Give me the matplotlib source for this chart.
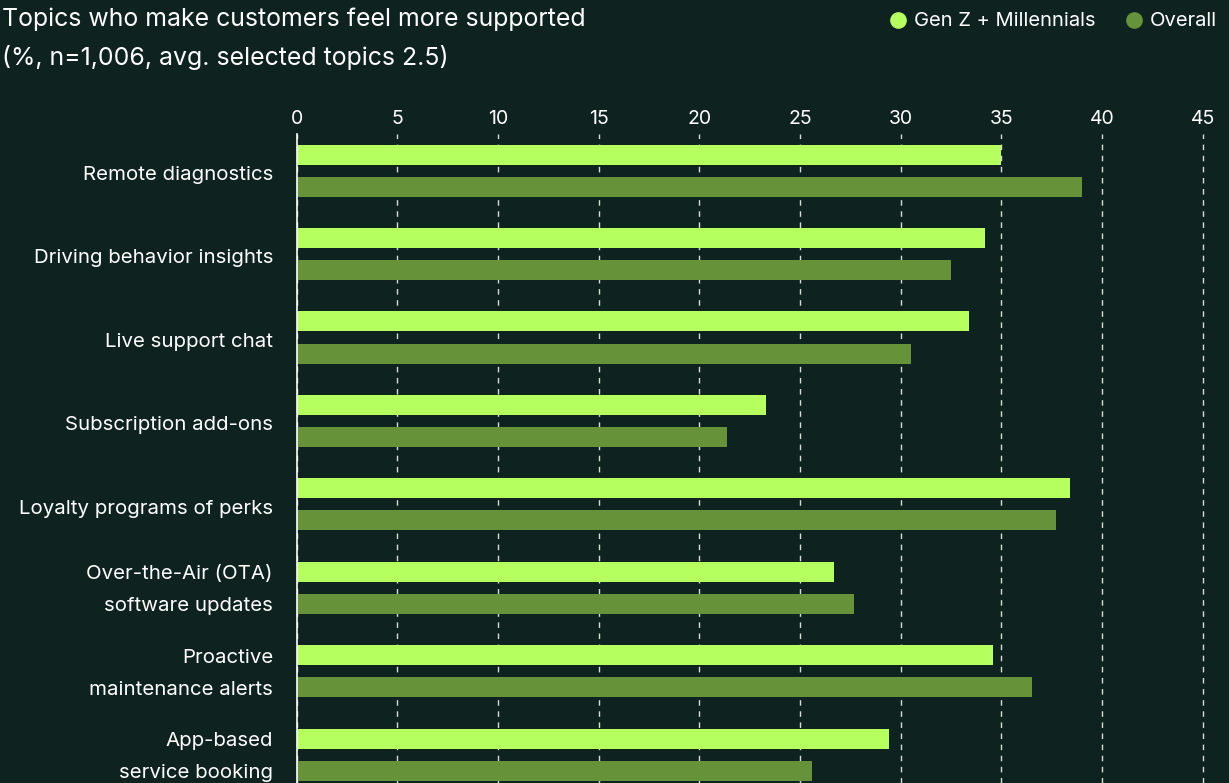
import matplotlib
matplotlib.use("Agg")
import matplotlib.pyplot as plt
from matplotlib.lines import Line2D
import numpy as np

categories = [
    ["Remote diagnostics"],
    ["Driving behavior insights"],
    ["Live support chat"],
    ["Subscription add-ons"],
    ["Loyalty programs of perks"],
    ["Over-the-Air (OTA)", "software updates"],
    ["Proactive", "maintenance alerts"],
    ["App-based", "service booking"],
]
genz_millennials = [35.0, 34.2, 33.4, 23.3, 38.4, 26.7, 34.6, 29.4]
overall = [39.0, 32.5, 30.5, 21.4, 37.7, 27.7, 36.5, 25.6]
x_ticks = [0, 5, 10, 15, 20, 25, 30, 35, 40, 45]

BG = "#0e231f"
LIGHT = "#b5ff5e"
DARK = "#66923a"
WHITE = "#ffffff"

plt.rcParams["font.family"] = ["Inter", "DejaVu Sans"]

W, H, DPI = 1229, 783, 100
fig = plt.figure(figsize=(W / DPI, H / DPI), dpi=DPI, facecolor=BG)

left_px, right_px, top_px, bottom_px = 296.5, 1229, 134, 783
ax = fig.add_axes([left_px / W, 1 - bottom_px / H,
                   (right_px - left_px) / W, (bottom_px - top_px) / H])
ax.set_facecolor(BG)

y = np.arange(len(categories))
offset = 0.193
bar_h = 0.24
ax.barh(y - offset, genz_millennials, height=bar_h, color=LIGHT, zorder=3)
ax.barh(y + offset, overall, height=bar_h, color=DARK, zorder=3)

ax.set_xlim(0, (right_px - left_px) / 20.14)
ax.set_ylim(len(categories) - 1 + 0.34, -0.44)

ax.xaxis.tick_top()
ax.set_xticks(x_ticks)
ax.set_xticklabels([str(t) for t in x_ticks])
ax.tick_params(axis="x", length=0, pad=4.5, labelsize=14, colors=WHITE)
ax.set_yticks([])
ax.grid(axis="x", color="#d8dcd8", linestyle=(0, (4, 4)), linewidth=1.0, zorder=1)

for s in ["top", "right", "bottom"]:
    ax.spines[s].set_visible(False)
ax.spines["left"].set_color(WHITE)
ax.spines["left"].set_linewidth(1.2)
ax.spines["left"].set_zorder(4)

label_fs = 14.7
label_x = -23.5 / 20.14
nudge = 0.03
for i, lines in enumerate(categories):
    if len(lines) == 1:
        ax.text(label_x, i + 0.02 + nudge, lines[0], ha="right", va="center",
                color=WHITE, fontsize=label_fs)
    else:
        ax.text(label_x, i - offset + nudge, lines[0], ha="right", va="center",
                color=WHITE, fontsize=label_fs)
        ax.text(label_x, i + offset + nudge, lines[1], ha="right", va="center",
                color=WHITE, fontsize=label_fs)

fig.text(2 / W, 1 - 19 / H, "Topics who make customers feel more supported",
         color=WHITE, fontsize=17.9, ha="left", va="center")
fig.text(2 / W, 1 - 58 / H, "(%, n=1,006, avg. selected topics 2.5)",
         color=WHITE, fontsize=17.9, ha="left", va="center")

# legend
fig.add_artist(Line2D([898 / W], [1 - 20 / H], marker="o", markersize=11,
                      color=LIGHT, linestyle="none", transform=fig.transFigure))
fig.text(914 / W, 1 - 21 / H, "Gen Z + Millennials", color=WHITE,
         fontsize=14.5, ha="left", va="center")
fig.add_artist(Line2D([1134 / W], [1 - 20 / H], marker="o", markersize=11,
                      color=DARK, linestyle="none", transform=fig.transFigure))
fig.text(1150 / W, 1 - 21 / H, "Overall", color=WHITE,
         fontsize=14.5, ha="left", va="center")

fig.savefig("out.png", dpi=DPI, facecolor=BG)
